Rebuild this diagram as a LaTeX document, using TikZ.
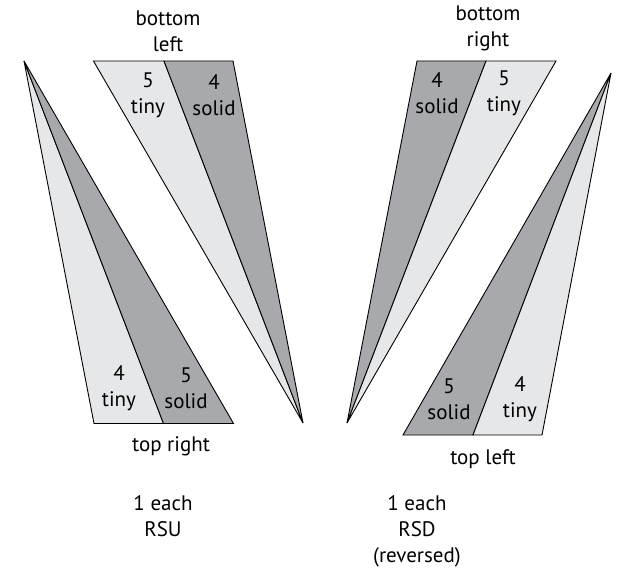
\documentclass[tikz,border=0pt]{standalone}
\usepackage{fontspec}
\setmainfont{PT Sans}
\definecolor{mLightWedge}{HTML}{e6e7e8}
\definecolor{mDarkWedge}{HTML}{a7a9ac}
\tikzset{
	tinywedge/.style={draw=black, fill=mLightWedge, line width=.9pt, line join=miter},
	solidwedge/.style={draw=black, fill=mDarkWedge, line width=.9pt, line join=miter},
	lbl/.style={align=center, inner sep=0pt, text=black, font=\fontsize{21}{26}\selectfont}
}

\begin{document}
\begin{tikzpicture}[x=1pt, y=-1pt]
		\useasboundingbox (0,0) rectangle (618,569);
		% wedges: apex, far edge start, split, far edge end, y of the far edge
		\foreach \ax/\ay/\lft/\mid/\rgt/\edge/\lfill/\rfill in {
			303/423/93.5/164/233/61/tinywedge/solidwedge,
			24/61/94/163.5/233.5/423.5/tinywedge/solidwedge,
			347/423/417/486/556/61/solidwedge/tinywedge,
			611/73/403/473/542/435/solidwedge/tinywedge}{
			\draw[\lfill] (\ax,\ay) -- (\lft,\edge) -- (\mid,\edge) -- cycle;
			\draw[\rfill] (\ax,\ay) -- (\mid,\edge) -- (\rgt,\edge) -- cycle;
		 }
		\foreach \xx/\yy/\alph/\first/\second in {
			148/95/tinyBL/5/tiny,
			214/95/solidBL/4/solid,
			119/388/tinyTR/4/tiny,
			186/388/solidTR/5/solid,
			437/93/solidBR/4/solid,
			504/93/tinyBR/5/tiny,
			449/399/solidTL/5/solid,
			520/399/tinyTL/4/tiny,
			168/31/bottomL/bottom/left,
			488/28/bottomR/bottom/right,
			163/516/rsu/1 each/RSU}{
			\node[lbl] (\alph) at (\xx,\yy) {\first\\\second};
		 }
		\node[lbl] (topR) at (171,446) {top right};
		\node[lbl] (topL) at (483,459) {top left};
		\node[lbl] (rsd) at (417,531) {1 each\\RSD\\(reversed)};
	\end{tikzpicture}
\end{document}
